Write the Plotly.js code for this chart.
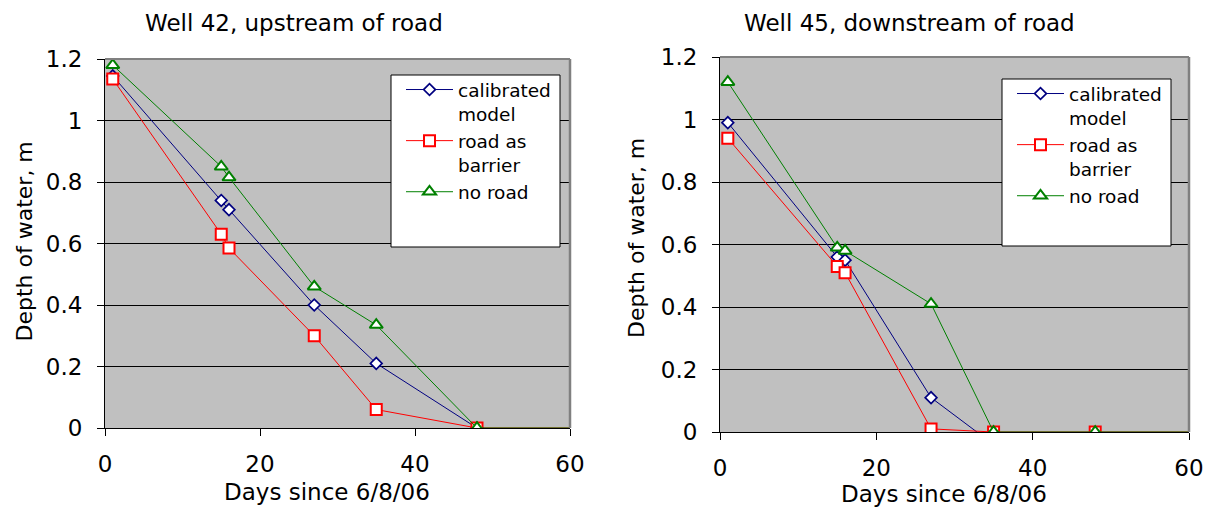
<!DOCTYPE html>
<html>
<head>
<meta charset="utf-8">
<script src="https://cdn.plot.ly/plotly-3.0.1.min.js"></script>
<style>html,body{margin:0;padding:0;background:#fff;}#chart{width:1209px;height:511px;}</style>
</head>
<body>
<div id="chart"></div>
<script>
// ---- Data ----
const seriesNames = ["calibrated<br>model", "road as<br>barrier", "no road"];

// Well 42, upstream of road
const days42Cal = [1, 15, 16, 27, 35, 48, 60];
const depth42Cal = [1.145, 0.74, 0.71, 0.40, 0.21, 0, -0.04];
const days42Bar = [1, 15, 16, 27, 35, 48, 62];
const depth42Bar = [1.135, 0.63, 0.585, 0.30, 0.06, 0, 0];
const days42No = [1, 15, 16, 27, 35, 48, 62];
const depth42No = [1.18, 0.85, 0.815, 0.46, 0.335, 0, 0];

// Well 45, downstream of road
const days45Cal = [1, 15, 16, 27, 35];
const depth45Cal = [0.99, 0.56, 0.55, 0.11, -0.04];
const days45Bar = [1, 15, 16, 27, 35, 48, 62];
const depth45Bar = [0.94, 0.53, 0.51, 0.01, 0, 0, 0];
const days45No = [1, 15, 16, 27, 35, 48, 62];
const depth45No = [1.12, 0.59, 0.58, 0.41, 0, 0, 0];

const xTickVals = [0, 20, 40, 60];
const yTickVals = [0, 0.2, 0.4, 0.6, 0.8, 1, 1.2];

// ---- Styling ----
const W = 1209, H = 511;
const FONT = "DejaVu Sans";
const px = p => p / W;
const py = p => (H - p) / H;

const styles = [
  {color: "#000080", symbol: "diamond", size: 9, lw: 1.7},
  {color: "#FF0000", symbol: "square", size: 11, lw: 2},
  {color: "#008000", symbol: "triangle-up", size: 11.5, lw: 2}
];

function mk(x, y, i, xa, ya, leg) {
  const s = styles[i];
  return {
    x: x, y: y, type: "scatter", mode: "lines+markers",
    name: seriesNames[i], xaxis: xa, yaxis: ya, legend: leg,
    line: {color: s.color, width: 1},
    marker: {symbol: s.symbol, size: s.size, color: "#FFFFFF",
             line: {color: s.color, width: s.lw}}
  };
}

const data = [
  mk(days42Cal, depth42Cal, 0, "x", "y", "legend"),
  mk(days42Bar, depth42Bar, 1, "x", "y", "legend"),
  mk(days42No, depth42No, 2, "x", "y", "legend"),
  mk(days45Cal, depth45Cal, 0, "x2", "y2", "legend2"),
  mk(days45Bar, depth45Bar, 1, "x2", "y2", "legend2"),
  mk(days45No, depth45No, 2, "x2", "y2", "legend2")
];

function xAxis(domain, anchor) {
  return {
    domain: domain, anchor: anchor, range: [0, 60], tickvals: xTickVals,
    ticks: "outside", ticklen: 7, tickcolor: "#000", tickwidth: 1,
    ticklabelstandoff: 8,
    showline: true, linecolor: "#000", linewidth: 1,
    showgrid: false, zeroline: false,
    tickfont: {family: FONT, size: 23, color: "#000"}
  };
}
function yAxis(domain, anchor) {
  return {
    domain: domain, anchor: anchor, range: [0, 1.2], tickvals: yTickVals,
    ticks: "outside", ticklen: 7, tickcolor: "#000", tickwidth: 1,
    ticklabelstandoff: 10,
    showline: true, linecolor: "#000", linewidth: 1,
    showgrid: true, gridcolor: "#000", gridwidth: 1, zeroline: false,
    tickfont: {family: FONT, size: 23, color: "#000"}
  };
}

const legendCommon = {
  xanchor: "left", yanchor: "top", bgcolor: "rgba(0,0,0,0)", borderwidth: 0,
  font: {family: FONT, size: 18.5, color: "#000"}, itemwidth: 47,
  valign: "top", tracegroupgap: 0
};

function border(xr, yr) {
  return [
    {type: "line", xref: xr + " domain", yref: yr + " domain", x0: 0, x1: 1, y0: 1, y1: 1,
     line: {color: "#808080", width: 2}, layer: "above"},
    {type: "line", xref: xr + " domain", yref: yr + " domain", x0: 1, x1: 1, y0: 0, y1: 1,
     line: {color: "#808080", width: 2.5}, layer: "above"}
  ];
}

const layout = {
  width: W, height: H,
  margin: {l: 0, r: 0, t: 0, b: 0},
  paper_bgcolor: "#FFFFFF", plot_bgcolor: "#C0C0C0",
  font: {family: FONT, color: "#000"},
  showlegend: true,
  xaxis: xAxis([px(105), px(570)], "y"),
  yaxis: yAxis([py(428), py(59)], "x"),
  xaxis2: xAxis([px(720), px(1189)], "y2"),
  yaxis2: yAxis([py(432), py(57)], "x2"),
  legend: Object.assign({x: px(401), y: py(71)}, legendCommon),
  legend2: Object.assign({x: px(1012), y: py(75)}, legendCommon),
  shapes: [
    {type: "rect", xref: "paper", yref: "paper", x0: px(391), x1: px(560), y0: py(247), y1: py(75),
     fillcolor: "#FFFFFF", line: {color: "#000", width: 1}, layer: "above"},
    {type: "rect", xref: "paper", yref: "paper", x0: px(1002), x1: px(1171), y0: py(246), y1: py(79),
     fillcolor: "#FFFFFF", line: {color: "#000", width: 1}, layer: "above"}
  ].concat(border("x", "y"), border("x2", "y2")),
  annotations: [
    {text: "Well 42, upstream of road", xref: "paper", yref: "paper", x: px(294), y: py(23),
     xanchor: "center", yanchor: "middle", showarrow: false, font: {family: FONT, size: 23, color: "#000"}},
    {text: "Well 45, downstream of road", xref: "paper", yref: "paper", x: px(909), y: py(23),
     xanchor: "center", yanchor: "middle", showarrow: false, font: {family: FONT, size: 23, color: "#000"}},
    {text: "Days since 6/8/06", xref: "paper", yref: "paper", x: px(327), y: py(492),
     xanchor: "center", yanchor: "middle", showarrow: false, font: {family: FONT, size: 23, color: "#000"}},
    {text: "Days since 6/8/06", xref: "paper", yref: "paper", x: px(944), y: py(494),
     xanchor: "center", yanchor: "middle", showarrow: false, font: {family: FONT, size: 23, color: "#000"}},
    {text: "Depth of water, m", xref: "paper", yref: "paper", x: px(23.5), y: py(242),
     xanchor: "center", yanchor: "middle", textangle: -90, showarrow: false, font: {family: FONT, size: 22, color: "#000"}},
    {text: "Depth of water, m", xref: "paper", yref: "paper", x: px(636), y: py(238),
     xanchor: "center", yanchor: "middle", textangle: -90, showarrow: false, font: {family: FONT, size: 22, color: "#000"}}
  ]
};

Plotly.newPlot("chart", data, layout, {displayModeBar: false, staticPlot: true});
</script>
</body>
</html>
